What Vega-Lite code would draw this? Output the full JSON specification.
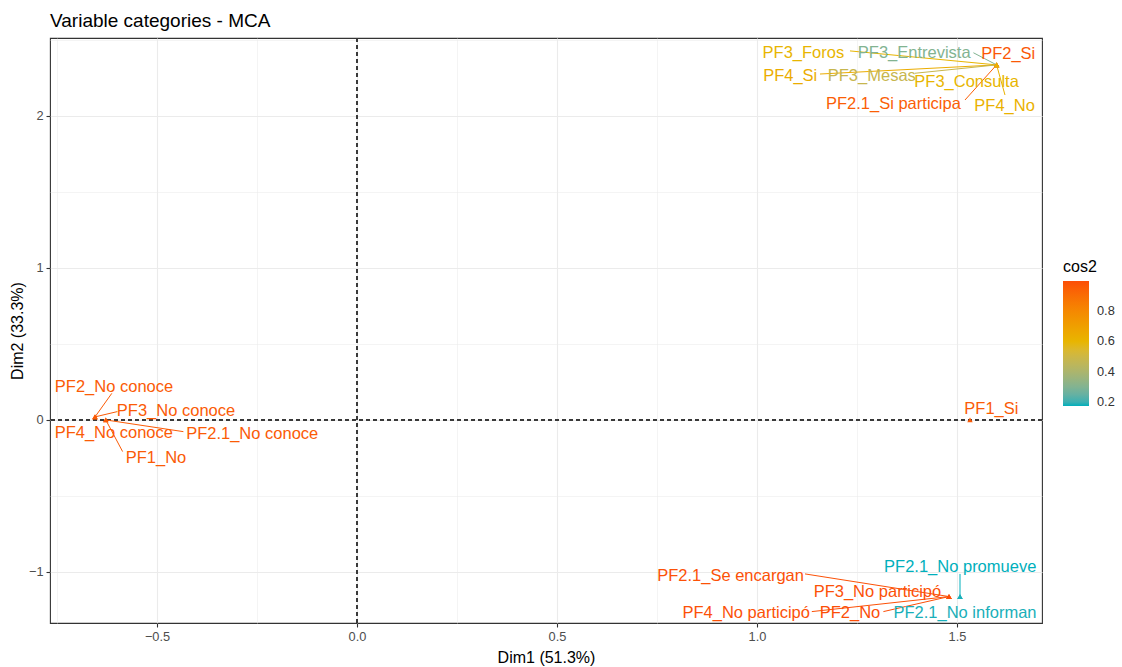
{
  "$schema": "https://vega.github.io/schema/vega-lite/v6.json",
  "autosize": "none",
  "width": 992,
  "height": 585,
  "padding": {"left": 50, "top": 38, "right": 80, "bottom": 44},
  "background": "white",
  "title": {"text": "Variable categories - MCA", "anchor": "start", "frame": "group", "fontSize": 19, "fontWeight": "normal", "color": "black", "offset": 7, "font": "Liberation Sans"},
  "data": {
    "values": [
      {"name": "PF3_Foros", "x": 1.599, "y": 2.336, "cos2": 0.6, "lx": 1.116, "ly": 2.416, "sx": 1.2325, "sy": 2.428},
      {"name": "PF3_Entrevista", "x": 1.599, "y": 2.336, "cos2": 0.3, "lx": 1.393, "ly": 2.416, "sx": 1.541, "sy": 2.416},
      {"name": "PF2_Si", "x": 1.599, "y": 2.336, "cos2": 0.97, "lx": 1.628, "ly": 2.408, "sx": null, "sy": null},
      {"name": "PF4_Si", "x": 1.599, "y": 2.336, "cos2": 0.64, "lx": 1.083, "ly": 2.263, "sx": 1.1575, "sy": 2.276},
      {"name": "PF3_Mesas", "x": 1.599, "y": 2.336, "cos2": 0.48, "lx": 1.287, "ly": 2.263, "sx": 1.395, "sy": 2.281},
      {"name": "PF3_Consulta", "x": 1.599, "y": 2.336, "cos2": 0.6, "lx": 1.524, "ly": 2.226, "sx": null, "sy": null},
      {"name": "PF2.1_Si participa", "x": 1.599, "y": 2.336, "cos2": 0.95, "lx": 1.341, "ly": 2.079, "sx": 1.52, "sy": 2.105},
      {"name": "PF4_No", "x": 1.599, "y": 2.336, "cos2": 0.62, "lx": 1.619, "ly": 2.066, "sx": 1.62, "sy": 2.138},
      {"name": "PF2_No conoce", "x": -0.655, "y": 0.02, "cos2": 0.96, "lx": -0.6075, "ly": 0.219, "sx": -0.613, "sy": 0.175},
      {"name": "PF3_No conoce", "x": -0.655, "y": 0.02, "cos2": 0.96, "lx": -0.4525, "ly": 0.061, "sx": -0.599, "sy": 0.055},
      {"name": "PF4_No conoce", "x": -0.655, "y": 0.02, "cos2": 0.96, "lx": -0.608, "ly": -0.088, "sx": null, "sy": null},
      {"name": "PF2.1_No conoce", "x": -0.628, "y": 0.0, "cos2": 0.96, "lx": -0.262, "ly": -0.092, "sx": -0.434, "sy": -0.077},
      {"name": "PF1_No", "x": -0.628, "y": 0.0, "cos2": 0.96, "lx": -0.5025, "ly": -0.252, "sx": -0.586, "sy": -0.208},
      {"name": "PF1_Si", "x": 1.5325, "y": 0.0, "cos2": 0.96, "lx": 1.586, "ly": 0.072, "sx": null, "sy": null},
      {"name": "PF2.1_No promueve", "x": 1.5075, "y": -1.162, "cos2": 0.17, "lx": 1.508, "ly": -0.965, "sx": 1.5075, "sy": -1.013},
      {"name": "PF2.1_Se encargan", "x": 1.48, "y": -1.162, "cos2": 0.99, "lx": 0.934, "ly": -1.026, "sx": 1.12, "sy": -1.013},
      {"name": "PF3_No participó", "x": 1.48, "y": -1.162, "cos2": 0.99, "lx": 1.301, "ly": -1.13, "sx": null, "sy": null},
      {"name": "PF4_No participó", "x": 1.48, "y": -1.162, "cos2": 0.99, "lx": 0.973, "ly": -1.272, "sx": 1.137, "sy": -1.261},
      {"name": "PF2_No", "x": 1.48, "y": -1.162, "cos2": 0.998, "lx": 1.2325, "ly": -1.272, "sx": 1.316, "sy": -1.261},
      {"name": "PF2.1_No informan", "x": 1.5075, "y": -1.162, "cos2": 0.18, "lx": 1.52, "ly": -1.272, "sx": null, "sy": null}
    ]
  },
  "layer": [
    {
      "mark": {"type": "rule", "strokeDash": [4, 3], "color": "#3a3a3a", "strokeWidth": 0.8},
      "encoding": {"x": {"datum": 0, "type": "quantitative", "title": "Dim1 (51.3%)"}}
    },
    {
      "mark": {"type": "rule", "strokeDash": [4, 3], "color": "#3a3a3a", "strokeWidth": 0.8},
      "encoding": {"y": {"datum": 0, "type": "quantitative", "title": "Dim2 (33.3%)"}}
    },
    {
      "transform": [{"filter": "datum.sx != null"}],
      "mark": {"type": "rule", "strokeWidth": 1},
      "encoding": {
        "x": {"field": "x", "type": "quantitative", "title": "Dim1 (51.3%)"},
        "y": {"field": "y", "type": "quantitative", "title": "Dim2 (33.3%)"},
        "x2": {"field": "sx"},
        "y2": {"field": "sy"},
        "color": {"field": "cos2", "type": "quantitative", "legend": null}
      }
    },
    {
      "mark": {"type": "text", "fontSize": 16.5, "font": "Liberation Sans", "align": "center", "baseline": "middle"},
      "encoding": {
        "x": {"field": "lx", "type": "quantitative", "title": "Dim1 (51.3%)"},
        "y": {"field": "ly", "type": "quantitative", "title": "Dim2 (33.3%)"},
        "text": {"field": "name"},
        "color": {"field": "cos2", "type": "quantitative", "legend": null}
      }
    },
    {
      "mark": {"type": "point", "shape": "triangle-up", "filled": true, "size": 30, "opacity": 1},
      "encoding": {
        "x": {"field": "x", "type": "quantitative", "title": "Dim1 (51.3%)"},
        "y": {"field": "y", "type": "quantitative", "title": "Dim2 (33.3%)"},
        "color": {
          "field": "cos2",
          "type": "quantitative",
          "legend": {
            "type": "gradient",
            "title": "cos2",
            "orient": "none",
            "legendX": 1013,
            "legendY": 221,
            "direction": "vertical",
            "values": [0.2, 0.4, 0.6, 0.8],
            "format": ".1f",
            "gradientLength": 125,
            "gradientThickness": 26,
            "titleFontSize": 16,
            "titleFontWeight": "normal",
            "titleColor": "black",
            "titlePadding": 6,
            "labelFontSize": 12.8,
            "labelColor": "#333333",
            "labelOffset": 8,
            "gradientStrokeWidth": 0
          }
        }
      }
    }
  ],
  "resolve": {"legend": {"color": "independent"}},
  "encoding": {
    "x": {
      "type": "quantitative",
      "scale": {"domain": [-0.7675, 1.7125], "nice": false, "zero": false},
      "axis": {
        "title": "Dim1 (51.3%)",
        "values": [-0.75, -0.5, -0.25, 0, 0.25, 0.5, 0.75, 1, 1.25, 1.5],
        "labelExpr": "abs(datum.value*2-round(datum.value*2))<0.001 ? format(datum.value, '.1f') : ''",
        "gridWidth": {"condition": {"test": "abs(datum.value*2-round(datum.value*2))<0.001", "value": 1.1}, "value": 0.55},
        "tickOpacity": {"condition": {"test": "abs(datum.value*2-round(datum.value*2))<0.001", "value": 1}, "value": 0},
        "titlePadding": 7
      }
    },
    "y": {
      "type": "quantitative",
      "scale": {"domain": [-1.336, 2.513], "nice": false, "zero": false},
      "axis": {
        "title": "Dim2 (33.3%)",
        "values": [-1, -0.5, 0, 0.5, 1, 1.5, 2, 2.5],
        "labelExpr": "abs(datum.value-round(datum.value))<0.001 ? format(datum.value, 'd') : ''",
        "gridWidth": {"condition": {"test": "abs(datum.value-round(datum.value))<0.001", "value": 1.1}, "value": 0.55},
        "tickOpacity": {"condition": {"test": "abs(datum.value-round(datum.value))<0.001", "value": 1}, "value": 0},
        "titlePadding": 3
      }
    },
    "color": {
      "type": "quantitative",
      "scale": {"domain": [0.174, 0.998], "domainMid": 0.586, "range": ["#00AFBB", "#E7B800", "#FC4E07"], "interpolate": "lab"}
    }
  },
  "config": {
    "font": "Liberation Sans",
    "view": {"stroke": "#333333", "strokeWidth": 1.1},
    "axis": {
      "domain": false,
      "grid": true,
      "gridColor": "#EBEBEB",
      "tickColor": "#333333",
      "tickSize": 4,
      "tickWidth": 1.1,
      "labelColor": "#4D4D4D",
      "labelFontSize": 12.8,
      "labelFont": "Liberation Sans",
      "labelPadding": 3,
      "titleFont": "Liberation Sans",
      "titleFontSize": 16,
      "titleFontWeight": "normal",
      "titleColor": "black"
    },
    "legend": {"labelFont": "Liberation Sans", "titleFont": "Liberation Sans"}
  }
}
